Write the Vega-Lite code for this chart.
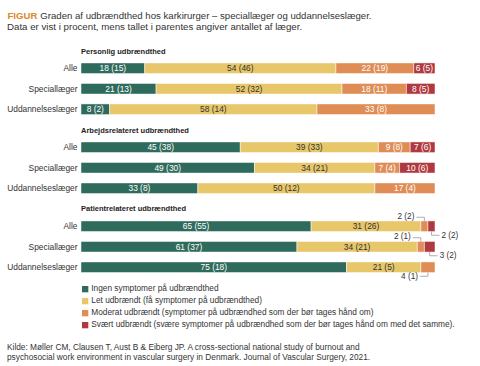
{
  "$schema": "https://vega.github.io/schema/vega-lite/v6.json",
  "background": "white",
  "padding": {"left": 6, "top": 10, "right": 5, "bottom": 2},
  "config": {
    "view": {"stroke": null},
    "font": "Liberation Sans",
    "title": {"anchor": "start", "frame": "group", "fontSize": 7.5, "fontWeight": "bold", "color": "#222222", "offset": 3},
    "axisY": {"title": null, "domain": false, "ticks": false, "grid": false, "labelPadding": 4, "labelFontSize": 8.4, "labelColor": "#333333"}
  },
  "datasets": {
    "bars": [
      {"panel": "Personlig", "group": "Alle", "cat": "Ingen", "value": 18, "label": "18 (15)"},
      {"panel": "Personlig", "group": "Alle", "cat": "Let", "value": 54, "label": "54 (46)"},
      {"panel": "Personlig", "group": "Alle", "cat": "Moderat", "value": 22, "label": "22 (19)"},
      {"panel": "Personlig", "group": "Alle", "cat": "Svært", "value": 6, "label": "6 (5)"},
      {"panel": "Personlig", "group": "Speciallæger", "cat": "Ingen", "value": 21, "label": "21 (13)"},
      {"panel": "Personlig", "group": "Speciallæger", "cat": "Let", "value": 52, "label": "52 (32)"},
      {"panel": "Personlig", "group": "Speciallæger", "cat": "Moderat", "value": 18, "label": "18 (11)"},
      {"panel": "Personlig", "group": "Speciallæger", "cat": "Svært", "value": 8, "label": "8 (5)"},
      {"panel": "Personlig", "group": "Uddannelseslæger", "cat": "Ingen", "value": 8, "label": "8 (2)"},
      {"panel": "Personlig", "group": "Uddannelseslæger", "cat": "Let", "value": 58, "label": "58 (14)"},
      {"panel": "Personlig", "group": "Uddannelseslæger", "cat": "Moderat", "value": 33, "label": "33 (8)"},
      {"panel": "Arbejde", "group": "Alle", "cat": "Ingen", "value": 45, "label": "45 (38)"},
      {"panel": "Arbejde", "group": "Alle", "cat": "Let", "value": 39, "label": "39 (33)"},
      {"panel": "Arbejde", "group": "Alle", "cat": "Moderat", "value": 9, "label": "9 (8)"},
      {"panel": "Arbejde", "group": "Alle", "cat": "Svært", "value": 7, "label": "7 (6)"},
      {"panel": "Arbejde", "group": "Speciallæger", "cat": "Ingen", "value": 49, "label": "49 (30)"},
      {"panel": "Arbejde", "group": "Speciallæger", "cat": "Let", "value": 34, "label": "34 (21)"},
      {"panel": "Arbejde", "group": "Speciallæger", "cat": "Moderat", "value": 7, "label": "7 (4)"},
      {"panel": "Arbejde", "group": "Speciallæger", "cat": "Svært", "value": 10, "label": "10 (6)"},
      {"panel": "Arbejde", "group": "Uddannelseslæger", "cat": "Ingen", "value": 33, "label": "33 (8)"},
      {"panel": "Arbejde", "group": "Uddannelseslæger", "cat": "Let", "value": 50, "label": "50 (12)"},
      {"panel": "Arbejde", "group": "Uddannelseslæger", "cat": "Moderat", "value": 17, "label": "17 (4)"},
      {"panel": "Patient", "group": "Alle", "cat": "Ingen", "value": 65, "label": "65 (55)"},
      {"panel": "Patient", "group": "Alle", "cat": "Let", "value": 31, "label": "31 (26)"},
      {"panel": "Patient", "group": "Alle", "cat": "Moderat", "value": 2, "label": "2 (2)", "callout": "above-left"},
      {"panel": "Patient", "group": "Alle", "cat": "Svært", "value": 2, "label": "2 (2)", "callout": "below-right"},
      {"panel": "Patient", "group": "Speciallæger", "cat": "Ingen", "value": 61, "label": "61 (37)"},
      {"panel": "Patient", "group": "Speciallæger", "cat": "Let", "value": 34, "label": "34 (21)"},
      {"panel": "Patient", "group": "Speciallæger", "cat": "Moderat", "value": 2, "label": "2 (1)", "callout": "above-left"},
      {"panel": "Patient", "group": "Speciallæger", "cat": "Svært", "value": 3, "label": "3 (2)", "callout": "below-right"},
      {"panel": "Patient", "group": "Uddannelseslæger", "cat": "Ingen", "value": 75, "label": "75 (18)"},
      {"panel": "Patient", "group": "Uddannelseslæger", "cat": "Let", "value": 21, "label": "21 (5)"},
      {"panel": "Patient", "group": "Uddannelseslæger", "cat": "Moderat", "value": 4, "label": "4 (1)", "callout": "below-left"}
    ]
  },
  "spacing": 6,
  "resolve": {"legend": {"color": "independent"}},
  "vconcat": [
    {
      "width": 354,
      "height": 20.5,
      "data": {"values": [{}]},
      "mark": {"type": "point", "opacity": 0, "size": 0},
      "encoding": {
        "x": {"datum": 0, "type": "quantitative", "axis": {"orient": "top", "title": "Graden af udbrændthed hos karkirurger – speciallæger og uddannelseslæger.", "titleX": -41.2, "titleAnchor": "start", "titleAlign": "left", "titleBaseline": "bottom", "titlePadding": 0, "titleFontSize": 9.6, "titleFontWeight": "normal", "titleColor": "#333333", "labels": false, "ticks": false, "domain": false, "grid": false}},
        "y": {"datum": 0, "type": "quantitative", "axis": {"title": "FIGUR", "titleAngle": 0, "titleX": -74, "titleAnchor": "end", "titleAlign": "left", "titleBaseline": "bottom", "titlePadding": 3, "titleFontSize": 9.6, "titleFontWeight": "bold", "titleColor": "#d98a2b", "labels": false, "ticks": false, "domain": false, "grid": false}}
      },
      "title": {"text": "Data er vist i procent, mens tallet i parentes angiver antallet af læger.", "orient": "bottom", "anchor": "start", "frame": "bounds", "baseline": "top", "offset": -18.1, "fontSize": 9.7, "fontWeight": "normal", "color": "#333333"}
    },
    {
      "title": "Personlig udbrændthed",
      "width": 354,
      "height": 61.5,
      "data": {"name": "bars"},
      "transform": [
        {"filter": "datum.panel === 'Personlig'"},
        {"stack": "value", "groupby": ["group"], "sort": [{"field": "cat"}], "offset": "normalize", "as": ["x0", "x1"]},
        {"calculate": "(datum.x0 + datum.x1) / 2", "as": "xm"}
      ],
      "encoding": {
        "y": {"field": "group", "type": "nominal", "sort": ["Alle", "Speciallæger", "Uddannelseslæger"], "scale": {"paddingInner": 0.48, "paddingOuter": 0.24}}
      },
      "layer": [
        {
          "mark": {"type": "bar", "stroke": "white", "strokeWidth": 0.5},
          "encoding": {
            "x": {"field": "x0", "type": "quantitative", "scale": {"domain": [0, 1]}, "axis": null},
            "x2": {"field": "x1"},
            "color": {"field": "cat", "type": "nominal", "scale": {"domain": ["Ingen", "Let", "Moderat", "Svært"], "range": ["#2f6b5c", "#e8c76a", "#e08c55", "#b0393f"]}, "legend": null}
          }
        },
        {
          "mark": {"type": "text", "fontSize": 8.4},
          "encoding": {
            "x": {"field": "xm", "type": "quantitative"},
            "text": {"field": "label"},
            "color": {"condition": {"test": "datum.cat === 'Let'", "value": "#333333"}, "value": "white"}
          }
        }
      ]
    },
    {
      "title": "Arbejdsrelateret udbrændthed",
      "width": 354,
      "height": 61.5,
      "data": {"name": "bars"},
      "transform": [
        {"filter": "datum.panel === 'Arbejde'"},
        {"stack": "value", "groupby": ["group"], "sort": [{"field": "cat"}], "offset": "normalize", "as": ["x0", "x1"]},
        {"calculate": "(datum.x0 + datum.x1) / 2", "as": "xm"}
      ],
      "encoding": {
        "y": {"field": "group", "type": "nominal", "sort": ["Alle", "Speciallæger", "Uddannelseslæger"], "scale": {"paddingInner": 0.48, "paddingOuter": 0.24}}
      },
      "layer": [
        {
          "mark": {"type": "bar", "stroke": "white", "strokeWidth": 0.5},
          "encoding": {
            "x": {"field": "x0", "type": "quantitative", "scale": {"domain": [0, 1]}, "axis": null},
            "x2": {"field": "x1"},
            "color": {"field": "cat", "type": "nominal", "scale": {"domain": ["Ingen", "Let", "Moderat", "Svært"], "range": ["#2f6b5c", "#e8c76a", "#e08c55", "#b0393f"]}, "legend": null}
          }
        },
        {
          "mark": {"type": "text", "fontSize": 8.4},
          "encoding": {
            "x": {"field": "xm", "type": "quantitative"},
            "text": {"field": "label"},
            "color": {"condition": {"test": "datum.cat === 'Let'", "value": "#333333"}, "value": "white"}
          }
        }
      ]
    },
    {
      "title": {"text": "Patientrelateret udbrændthed", "offset": -1},
      "width": 354,
      "height": 61.5,
      "data": {"name": "bars"},
      "transform": [
        {"filter": "datum.panel === 'Patient'"},
        {"stack": "value", "groupby": ["group"], "sort": [{"field": "cat"}], "offset": "normalize", "as": ["x0", "x1"]},
        {"calculate": "(datum.x0 + datum.x1) / 2", "as": "xm"}
      ],
      "encoding": {
        "y": {"field": "group", "type": "nominal", "sort": ["Alle", "Speciallæger", "Uddannelseslæger"], "scale": {"paddingInner": 0.48, "paddingOuter": 0.24}}
      },
      "layer": [
        {
          "mark": {"type": "bar", "stroke": "white", "strokeWidth": 0.5},
          "encoding": {
            "x": {"field": "x0", "type": "quantitative", "scale": {"domain": [0, 1]}, "axis": null},
            "x2": {"field": "x1"},
            "color": {
              "field": "cat", "type": "nominal",
              "scale": {"domain": ["Ingen", "Let", "Moderat", "Svært"], "range": ["#2f6b5c", "#e8c76a", "#e08c55", "#b0393f"]},
              "legend": {
                "orient": "bottom", "direction": "vertical", "title": null, "offset": 7,
                "symbolType": "square", "symbolSize": 40, "symbolStrokeWidth": 0,
                "labelFontSize": 8.3, "labelLimit": 0, "labelColor": "#333333", "rowPadding": 3, "labelOffset": 2,
                "labelExpr": "datum.label === 'Ingen' ? 'Ingen symptomer på udbrændthed' : datum.label === 'Let' ? 'Let udbrændt (få symptomer på udbrændthed)' : datum.label === 'Moderat' ? 'Moderat udbrændt (symptomer på udbrændhed som der bør tages hånd om)' : 'Svært udbrændt (svære symptomer på udbrændhed som der bør tages hånd om med det samme).'"
              }
            }
          }
        },
        {
          "transform": [{"filter": "!datum.callout"}],
          "mark": {"type": "text", "fontSize": 8.4},
          "encoding": {
            "x": {"field": "xm", "type": "quantitative"},
            "text": {"field": "label"},
            "color": {"condition": {"test": "datum.cat === 'Let'", "value": "#333333"}, "value": "white"}
          }
        },
        {
          "transform": [{"filter": "datum.callout === 'above-left'"}],
          "mark": {"type": "text", "fontSize": 8.2, "align": "right", "dx": -10, "dy": -9.5, "color": "#333333"},
          "encoding": {"x": {"field": "xm", "type": "quantitative"}, "text": {"field": "label"}}
        },
        {
          "transform": [{"filter": "datum.callout === 'below-left'"}],
          "mark": {"type": "text", "fontSize": 8.2, "align": "right", "dx": -10, "dy": 9.5, "color": "#333333"},
          "encoding": {"x": {"field": "xm", "type": "quantitative"}, "text": {"field": "label"}}
        },
        {
          "transform": [{"filter": "datum.callout === 'below-right'"}],
          "mark": {"type": "text", "fontSize": 8.2, "align": "left", "dx": 10, "dy": 9.5, "color": "#333333"},
          "encoding": {"x": {"field": "xm", "type": "quantitative"}, "text": {"field": "label"}}
        },
        {
          "transform": [{"filter": "datum.callout === 'above-left'"}],
          "mark": {"type": "rule", "color": "#999999", "strokeWidth": 0.8, "xOffset": -8, "yOffset": -9},
          "encoding": {"x": {"field": "xm", "type": "quantitative"}, "x2": {"field": "xm"}}
        },
        {
          "transform": [{"filter": "datum.callout === 'below-left'"}],
          "mark": {"type": "rule", "color": "#999999", "strokeWidth": 0.8, "xOffset": -8, "yOffset": 9},
          "encoding": {"x": {"field": "xm", "type": "quantitative"}, "x2": {"field": "xm"}}
        },
        {
          "transform": [{"filter": "datum.callout === 'below-right'"}],
          "mark": {"type": "rule", "color": "#999999", "strokeWidth": 0.8, "x2Offset": 8, "yOffset": 9},
          "encoding": {"x": {"field": "xm", "type": "quantitative"}, "x2": {"field": "xm"}}
        },
        {
          "transform": [{"filter": "datum.callout === 'above-left'"}],
          "mark": {"type": "rule", "color": "#999999", "strokeWidth": 0.8, "yOffset": -9, "y2Offset": -5.3},
          "encoding": {"x": {"field": "xm", "type": "quantitative"}, "y2": {"field": "group"}}
        },
        {
          "transform": [{"filter": "datum.callout === 'below-left' || datum.callout === 'below-right'"}],
          "mark": {"type": "rule", "color": "#999999", "strokeWidth": 0.8, "yOffset": 9, "y2Offset": 5.3},
          "encoding": {"x": {"field": "xm", "type": "quantitative"}, "y2": {"field": "group"}}
        }
      ]
    },
    {
      "width": 354,
      "height": 1,
      "data": {"values": [{}]},
      "mark": {"type": "point", "opacity": 0, "size": 0},
      "encoding": {},
      "title": {
        "text": ["Kilde: Møller CM, Clausen T, Aust B & Eiberg JP. A cross-sectional national study of burnout and", "psychosocial work environment in vascular surgery in Denmark. Journal of Vascular Surgery, 2021."],
        "orient": "bottom", "anchor": "start", "frame": "group", "dx": -74, "fontSize": 8.3, "fontWeight": "normal", "color": "#333333", "lineHeight": 10, "offset": 7
      }
    }
  ]
}
